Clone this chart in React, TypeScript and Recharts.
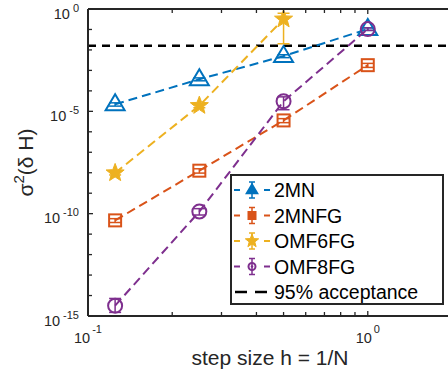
import { ScatterChart, Scatter, XAxis, YAxis, ReferenceLine, ErrorBar } from "recharts";

const stepSizes = [0.125, 0.25, 0.5, 1];

const var2MN = [2.2e-5, 3.7e-4, 5e-3, 0.105];
const err2MN = [[4e-6, 4e-6], [6e-5, 6e-5], [8e-4, 8e-4], [0.015, 0.015]];

const var2MNFG = [4.7e-11, 1.26e-8, 3.6e-6, 1.8e-3];
const err2MNFG = [[1e-11, 1e-11], [3e-9, 3e-9], [8e-7, 8e-7], [4e-4, 4e-4]];

const varOMF6FG = [9.8e-9, 1.9e-5, 0.32];
const errOMF6FG = [[2e-9, 2e-9], [4e-6, 4e-6], [0.3, 0.3]];

const varOMF8FG = [3.2e-15, 1.26e-10, 3.1e-5, 0.105];
const errOMF8FG = [[1.7e-15, 4e-15], [4e-11, 5e-11], [1.9e-5, 2e-5], [0.015, 0.015]];

const acceptance95 = 0.016;

const xTicks = [0.1, 0.2, 0.3, 0.4, 0.5, 0.6, 0.7, 0.8, 0.9, 1, 2];
const yTicks = [
  1e-15, 1e-14, 1e-13, 1e-12, 1e-11, 1e-10, 1e-9, 1e-8, 1e-7, 1e-6, 1e-5, 1e-4, 1e-3, 1e-2, 1e-1, 1,
];

const seriesNames = ["2MN", "2MNFG", "OMF6FG", "OMF8FG"];
const colors = ["#0072BD", "#D95319", "#EDB120", "#7E2F8E"];
const acceptanceName = "95% acceptance";

const AX = "#262626";
const FONT = "'Liberation Sans', Arial, Helvetica, sans-serif";
const PLOT_LEFT = 88;
const PLOT_TOP = 9;
const PLOT_BOTTOM = 316;

const toRows = (vals: number[], errs: number[][]) =>
  vals.map((v, i) => ({ x: stepSizes[i], y: v, err: errs[i] }));

function starPoints(cx: number, cy: number, R: number, r: number) {
  const pts: string[] = [];
  for (let i = 0; i < 10; i++) {
    const rad = i % 2 === 0 ? R : r;
    const a = -Math.PI / 2 + (i * Math.PI) / 5;
    pts.push(`${cx + rad * Math.cos(a)},${cy + rad * Math.sin(a)}`);
  }
  return pts.join(" ");
}

function Marker({ kind, cx, cy, color, small }: any) {
  if (kind === 0) {
    const s = small ? 0.55 : 1;
    return (
      <polygon
        points={`${cx},${cy - 10 * s} ${cx - 9.5 * s},${cy + 6 * s} ${cx + 9.5 * s},${cy + 6 * s}`}
        fill={small ? color : "none"}
        stroke={color}
        strokeWidth={2}
        strokeLinejoin="miter"
      />
    );
  }
  if (kind === 1) {
    const h = small ? 3.5 : 6;
    return (
      <rect
        x={cx - h}
        y={cy - h}
        width={2 * h}
        height={2 * h}
        fill={small ? color : "none"}
        stroke={color}
        strokeWidth={2}
      />
    );
  }
  if (kind === 2) {
    const R = small ? 7 : 9.5;
    return <polygon points={starPoints(cx, cy, R, R * 0.42)} fill={color} stroke={color} strokeWidth={1} />;
  }
  return (
    <g>
      <circle cx={cx} cy={cy} r={small ? 3.5 : 7} fill="none" stroke={color} strokeWidth={2} />
      {small && <circle cx={cx} cy={cy} r={1.3} fill={color} />}
    </g>
  );
}

const sup = (exp: number) => (exp === 0 ? "0" : `-${Math.abs(exp)}`);

function XTick(props: any) {
  const { x, payload } = props;
  const v = payload.value;
  const exp = Math.round(Math.log10(v));
  const major = Math.abs(Math.log10(v) - exp) < 1e-9;
  const len = major ? 5 : 4;
  return (
    <g>
      <line x1={x} x2={x} y1={PLOT_BOTTOM} y2={PLOT_BOTTOM - len} stroke={AX} strokeWidth={1.3} />
      <line x1={x} x2={x} y1={PLOT_TOP} y2={PLOT_TOP + len} stroke={AX} strokeWidth={1.3} />
      {major && (
        <text x={x} y={343} textAnchor="middle" fontFamily={FONT} fontSize={14.5} fill={AX}>
          <tspan>10</tspan>
          <tspan dx={2} dy={-10} fontSize={11}>
            {sup(exp)}
          </tspan>
        </text>
      )}
    </g>
  );
}

function YTick(props: any) {
  const { y, payload } = props;
  const exp = Math.round(Math.log10(payload.value));
  const major = exp % 5 === 0;
  return (
    <g>
      <line x1={PLOT_LEFT} x2={PLOT_LEFT + (major ? 5 : 4)} y1={y} y2={y} stroke={AX} strokeWidth={1.3} />
      {major && (
        <text x={79} y={y + 9.5} textAnchor="end" fontFamily={FONT} fontSize={14.5} fill={AX}>
          <tspan>10</tspan>
          <tspan dx={3} dy={-7} fontSize={11}>
            {sup(exp)}
          </tspan>
        </text>
      )}
    </g>
  );
}

function LegendBox() {
  const rowY = (i: number) => 16 + i * 25.5;
  return (
    <svg
      width={214}
      height={131}
      style={{ position: "absolute", left: 230, top: 174, overflow: "visible" }}
    >
      <rect x={1} y={1} width={212} height={129} fill="#fff" stroke={AX} strokeWidth={2} />
      {seriesNames.map((name, i) => {
        const cy = rowY(i);
        const c = colors[i];
        return (
          <g key={name}>
            <line x1={4} x2={10} y1={cy} y2={cy} stroke={c} strokeWidth={2} />
            <line x1={34} x2={40} y1={cy} y2={cy} stroke={c} strokeWidth={2} />
            <line x1={22} x2={22} y1={cy - 8} y2={cy + 8} stroke={c} strokeWidth={1.5} />
            <line x1={19} x2={25} y1={cy - 8} y2={cy - 8} stroke={c} strokeWidth={1.5} />
            <line x1={19} x2={25} y1={cy + 8} y2={cy + 8} stroke={c} strokeWidth={1.5} />
            <Marker kind={i} cx={22} cy={cy} color={c} small />
            <text x={44} y={cy + 7} fontFamily={FONT} fontSize={19.5} fill="#000">
              {name}
            </text>
          </g>
        );
      })}
      <line x1={5} x2={17} y1={rowY(4)} y2={rowY(4)} stroke="#000" strokeWidth={2.5} />
      <line x1={25} x2={37} y1={rowY(4)} y2={rowY(4)} stroke="#000" strokeWidth={2.5} />
      <text x={44} y={rowY(4) + 7} fontFamily={FONT} fontSize={19.5} fill="#000">
        {acceptanceName}
      </text>
    </svg>
  );
}

const seriesData = [
  toRows(var2MN, err2MN),
  toRows(var2MNFG, err2MNFG),
  toRows(varOMF6FG, errOMF6FG),
  toRows(varOMF8FG, errOMF8FG),
];

export default function App() {
  return (
    <div
      style={{
        position: "absolute",
        left: 0,
        top: 0,
        width: 448,
        height: 376,
        overflow: "hidden",
        background: "#fff",
      }}
    >
      <ScatterChart width={470} height={376} margin={{ top: PLOT_TOP, right: 18, bottom: 0, left: 0 }}>
        <XAxis
          type="number"
          dataKey="x"
          scale="log"
          domain={[0.1, 2]}
          ticks={xTicks}
          allowDataOverflow
          tickLine={false}
          tick={XTick}
          axisLine={{ stroke: AX, strokeWidth: 2 }}
          height={60}
          interval={0}
          label={(p: any) => (
            <text
              x={p.viewBox.x + p.viewBox.width / 2}
              y={365}
              textAnchor="middle"
              fontFamily={FONT}
              fontSize={21}
              fill={AX}
            >
              step size h = 1/N
            </text>
          )}
        />
        <YAxis
          type="number"
          dataKey="y"
          scale="log"
          domain={[1e-15, 1]}
          ticks={yTicks}
          allowDataOverflow
          tickLine={false}
          tick={YTick}
          axisLine={{ stroke: AX, strokeWidth: 2 }}
          width={PLOT_LEFT}
          interval={0}
          label={(p: any) => {
            const cy = p.viewBox.y + p.viewBox.height / 2;
            return (
              <text
                x={33}
                y={cy}
                transform={`rotate(-90, 33, ${cy})`}
                textAnchor="middle"
                fontFamily={FONT}
                fontSize={21}
                fill={AX}
              >
                <tspan>σ</tspan>
                <tspan dy={-9} fontSize={15}>2</tspan>
                <tspan dy={9}>(δ H)</tspan>
              </text>
            );
          }}
        />
        <ReferenceLine y={1} stroke={AX} strokeWidth={2} />
        <ReferenceLine y={acceptance95} stroke="#000" strokeWidth={2.3} strokeDasharray="8 6" />
        {seriesData.map((rows, i) => (
          <Scatter
            key={seriesNames[i]}
            name={seriesNames[i]}
            data={rows}
            fill={colors[i]}
            isAnimationActive={false}
            line={{ stroke: colors[i], strokeWidth: 2, strokeDasharray: "9 5" }}
            lineType="joint"
            shape={(p: any) => <Marker kind={i} cx={p.cx} cy={p.cy} color={colors[i]} />}
          >
            <ErrorBar dataKey="err" direction="y" width={6} stroke={colors[i]} strokeWidth={1.5} />
          </Scatter>
        ))}
      </ScatterChart>
      <LegendBox />
    </div>
  );
}
